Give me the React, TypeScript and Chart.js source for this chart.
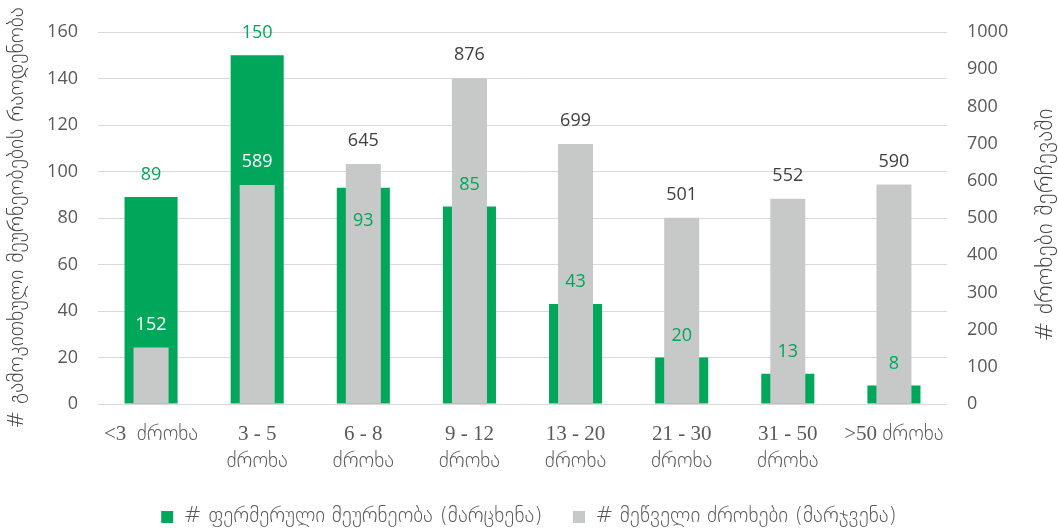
import React, { useEffect, useRef } from "react";
import { Chart, registerables } from "chart.js";

Chart.register(...registerables);

const categories: string[][] = [
  ["<3  ძროხა"],
  ["3 - 5", "ძროხა"],
  ["6 - 8", "ძროხა"],
  ["9 - 12", "ძროხა"],
  ["13 - 20", "ძროხა"],
  ["21 - 30", "ძროხა"],
  ["31 - 50", "ძროხა"],
  [">50 ძროხა"],
];
const farms: number[] = [89, 150, 93, 85, 43, 20, 13, 8];
const cows: number[] = [152, 589, 645, 876, 699, 501, 552, 590];

const farmsLabel = "# ფერმერული მეურნეობა (მარცხენა)";
const cowsLabel = "# მეწველი ძროხები (მარჯვენა)";
const leftTitle = "# გამოკითხული მეურნეობების რაოდენობა";
const rightTitle = "# ძროხები შერჩევაში";

const GREEN = "#00A65A";
const GRAY = "#C7C9C9";
const NUM_FONT = "'Open Sans', 'Noto Sans', sans-serif";
const GEO_FONT = "'DejaVu Sans', sans-serif";
const XLAB_FONT = "'Liberation Serif', 'DejaVu Sans', serif";
const LEFT_TITLE_SIZE = 21.5;
const RIGHT_TITLE_SIZE = 23.5;

const labelPlugin = {
  id: "valueLabels",
  afterDatasetsDraw(chart: any) {
    const ctx = chart.ctx;
    const gMeta = chart.getDatasetMeta(0);
    const cMeta = chart.getDatasetMeta(1);
    ctx.save();
    ctx.font = `18px ${NUM_FONT}`;
    ctx.textAlign = "center";
    ctx.textBaseline = "middle";
    gMeta.data.forEach((g: any, i: number) => {
      const c = cMeta.data[i];
      const gTop = g.y;
      const cTop = c.y;
      const cy = cTop - 23;
      ctx.fillStyle = cy > gTop ? "#FFFFFF" : "#404040";
      ctx.fillText(String(cows[i]), c.x, cy);
      const inside = cTop < gTop && gTop - cTop < 40;
      const gy = inside ? gTop + 33 : gTop - 22;
      ctx.fillStyle = GREEN;
      ctx.fillText(String(farms[i]), g.x, gy);
    });
    ctx.restore();
  },
  afterDraw(chart: any) {
    const s = chart.scales.y1;
    const ctx = chart.ctx;
    ctx.save();
    ctx.translate(s.right - 12, (s.top + s.bottom) / 2 + 7);
    ctx.rotate(-Math.PI / 2);
    ctx.font = `200 ${RIGHT_TITLE_SIZE}px ${GEO_FONT}`;
    ctx.fillStyle = "#404040";
    ctx.textAlign = "center";
    ctx.textBaseline = "middle";
    ctx.fillText(rightTitle, 0, 0);
    ctx.restore();
  },
};

export default function App() {
  const ref = useRef<HTMLCanvasElement>(null);
  useEffect(() => {
    if (!ref.current) return;
    const chart = new Chart(ref.current, {
      type: "bar",
      data: {
        labels: categories,
        datasets: [
          {
            label: farmsLabel,
            data: farms,
            backgroundColor: GREEN,
            yAxisID: "y",
            grouped: false,
            order: 1,
            categoryPercentage: 1,
            barPercentage: 0.5,
          } as any,
          {
            label: cowsLabel,
            data: cows,
            backgroundColor: GRAY,
            yAxisID: "y1",
            grouped: false,
            order: 0,
            categoryPercentage: 1,
            barPercentage: 0.33,
          } as any,
        ],
      },
      options: {
        responsive: false,
        animation: false,
        layout: { padding: { top: 32, bottom: -5.5, left: 0, right: 0 } },
        plugins: {
          tooltip: { enabled: false },
          legend: {
            position: "bottom",
            labels: {
              boxWidth: 12,
              boxHeight: 12,
              padding: 30.5,
              color: "#595959",
              font: { family: GEO_FONT, size: 21, weight: "200" },
              sort: (a: any, b: any) => a.datasetIndex - b.datasetIndex,
            },
          },
        },
        scales: {
          x: {
            grid: { display: false, drawTicks: false },
            border: { display: false },
            ticks: {
              color: "#595959",
              font: { family: XLAB_FONT, size: 21, lineHeight: 1.29, weight: "200" },
              padding: 16.5,
              maxRotation: 0,
              autoSkip: false,
            },
            afterFit: (s: any) => {
              s.height = 72;
            },
          },
          y: {
            position: "left",
            min: 0,
            max: 160,
            ticks: {
              stepSize: 20,
              color: "#595959",
              font: { family: NUM_FONT, size: 18 },
              padding: 20,
            },
            grid: { color: "#D9D9D9", lineWidth: 1, drawTicks: false },
            border: { display: false },
            title: {
              display: true,
              text: leftTitle,
              color: "#404040",
              font: { family: GEO_FONT, size: LEFT_TITLE_SIZE, weight: "200", lineHeight: 1.2 },
              padding: { top: 5, bottom: 0 },
            },
            afterFit: (s: any) => {
              s.width = 98;
            },
          },
          y1: {
            position: "right",
            min: 0,
            max: 1000,
            ticks: {
              stepSize: 100,
              color: "#595959",
              font: { family: NUM_FONT, size: 18 },
              padding: 20,
              callback: (v: any) => String(v),
            },
            grid: { drawOnChartArea: false, drawTicks: false },
            border: { display: false },
            afterFit: (s: any) => {
              s.width = 111;
            },
          },
        },
      },
      plugins: [labelPlugin],
    });
    return () => chart.destroy();
  }, []);
  return (
    <div style={{ position: "absolute", left: 0, top: 0, width: 1058, height: 532, background: "#fff" }}>
      <canvas ref={ref} width={1058} height={532} style={{ display: "block" }} />
    </div>
  );
}
